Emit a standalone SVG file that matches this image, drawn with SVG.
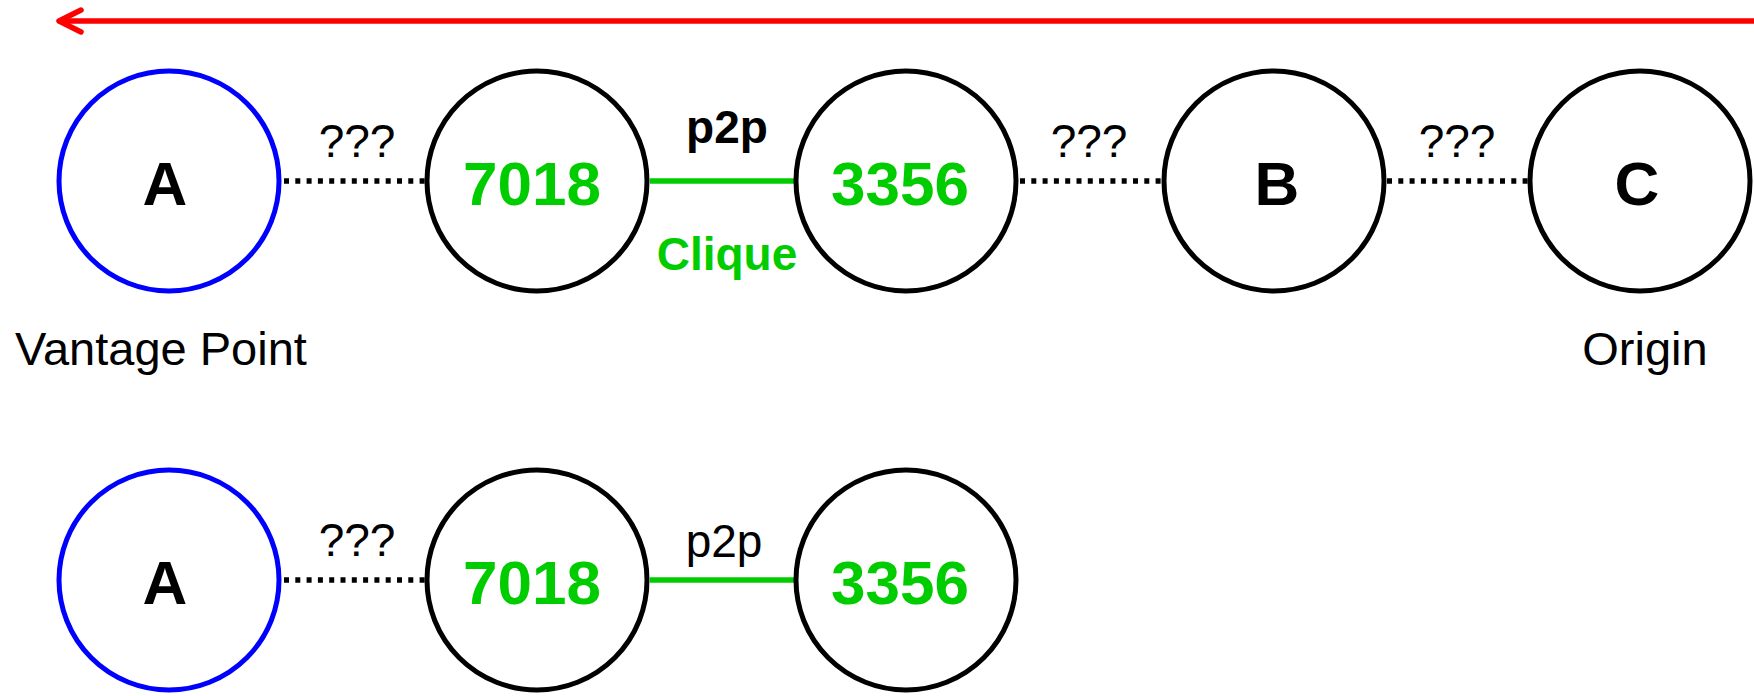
<svg xmlns="http://www.w3.org/2000/svg" width="1754" height="696" viewBox="0 0 1754 696">
<style>
  .node { fill: #ffffff; stroke: #000000; stroke-width: 5; }
  .vp { stroke: #0000ff; }
  .lbl { font-family: "Liberation Sans", Arial, sans-serif; font-weight: bold; font-size: 62px; text-anchor: middle; }
  .black { fill: #000000; }
  .green { fill: #00cc00; }
  .small { font-family: "Liberation Sans", Arial, sans-serif; font-size: 46px; text-anchor: middle; fill: #000000; }
  .bold { font-weight: bold; }
  .note { font-size: 47px; }
  .dotted { stroke: #000000; stroke-width: 5.5; stroke-dasharray: 5 6.3; fill: none; }
  .p2p { stroke: #00cc00; stroke-width: 5.5; fill: none; }
</style>
<g id="connectors">
  <g id="time-arrow" fill="none" stroke="#ff0000" stroke-width="5.5" stroke-linecap="round" stroke-linejoin="round">
    <line x1="60" y1="21" x2="1756" y2="21"/>
    <polyline points="81,10 59,21 81,32"/>
  </g>
  <line class="dotted" x1="284" y1="181" x2="425" y2="181"/>
  <line class="p2p" x1="650" y1="181" x2="794" y2="181"/>
  <line class="dotted" x1="1020" y1="181" x2="1162" y2="181"/>
  <line class="dotted" x1="1387" y1="181" x2="1530" y2="181"/>
  <line class="dotted" x1="284" y1="580" x2="425" y2="580"/>
  <line class="p2p" x1="650" y1="580" x2="794" y2="580"/>
</g>
<g id="edge-labels">
  <text class="small" x="357" y="157">???</text>
  <text class="small bold" x="727" y="143">p2p</text>
  <text class="small bold" x="727" y="270" style="fill:#00cc00">Clique</text>
  <text class="small" x="1089" y="157">???</text>
  <text class="small" x="1457" y="157">???</text>
  <text class="small" x="357" y="556">???</text>
  <text class="small" x="724" y="557">p2p</text>
</g>
<g id="node-A">
  <circle class="node vp" cx="169" cy="181" r="110"/>
  <text class="lbl black" x="165" y="205">A</text>
  <text class="small note" x="161" y="365">Vantage Point</text>
</g>
<g id="node-7018">
  <circle class="node" cx="537" cy="181" r="110"/>
  <text class="lbl green" x="532" y="205">7018</text>
</g>
<g id="node-3356">
  <circle class="node" cx="906" cy="181" r="110"/>
  <text class="lbl green" x="900" y="205">3356</text>
</g>
<g id="node-B">
  <circle class="node" cx="1274" cy="181" r="110"/>
  <text class="lbl black" x="1277" y="205">B</text>
</g>
<g id="node-C">
  <circle class="node" cx="1640" cy="181" r="110"/>
  <text class="lbl black" x="1637" y="205">C</text>
  <text class="small note" x="1645" y="365">Origin</text>
</g>
<g id="node-A2">
  <circle class="node vp" cx="169" cy="580" r="110"/>
  <text class="lbl black" x="165" y="604">A</text>
</g>
<g id="node-7018-2">
  <circle class="node" cx="537" cy="580" r="110"/>
  <text class="lbl green" x="532" y="604">7018</text>
</g>
<g id="node-3356-2">
  <circle class="node" cx="906" cy="580" r="110"/>
  <text class="lbl green" x="900" y="604">3356</text>
</g>
</svg>
